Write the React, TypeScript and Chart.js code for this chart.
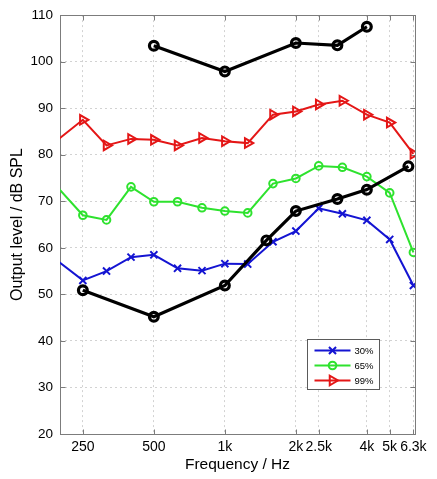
import { useEffect, useRef } from 'react';
import { Chart, registerables } from 'chart.js';

Chart.register(...registerables);

const FONT = '"Liberation Sans", Arial, Helvetica, sans-serif';

// One-third-octave band centres (Hz) for the percentile curves
const bandHz = [160, 250, 315, 400, 500, 630, 800, 1000, 1250, 1600, 2000, 2500, 3150, 4000, 5000, 6300];
const level30 = [60.6, 53.0, 55.0, 58.0, 58.5, 55.6, 55.1, 56.6, 56.5, 61.3, 63.6, 68.5, 67.3, 65.9, 61.8, 51.9];
const level65 = [77.8, 67.0, 66.0, 73.1, 69.9, 69.9, 68.6, 67.9, 67.5, 73.8, 74.9, 77.6, 77.3, 75.3, 71.8, 59.0];
const level99 = [79.7, 87.5, 82.0, 83.4, 83.2, 82.0, 83.6, 82.9, 82.5, 88.6, 89.3, 90.8, 91.6, 88.6, 86.9, 80.2];

// Audiometric frequencies for the lower and upper limit curves
const lowerHz = [250, 500, 1000, 1500, 2000, 3000, 4000, 6000];
const lowerLimit = [50.9, 45.2, 51.9, 61.6, 67.9, 70.5, 72.5, 77.5];
const upperHz = [500, 1000, 2000, 3000, 4000];
const upperLimit = [103.4, 97.9, 104.0, 103.5, 107.5];

const xTickValues = [250, 500, 1000, 2000, 2500, 4000, 5000, 6300];
const xTickLabels = ['250', '500', '1k', '2k', '2.5k', '4k', '5k', '6.3k'];

const BLUE = '#1414d2';
const GREEN = '#2ee22e';
const RED = '#e41616';
const BLACK = '#000000';
const AXIS_GREY = '#7c7c7c';
const GRID_GREY = '#d2d2d2';

const pairs = (xs: number[], ys: number[]) => xs.map((x, i) => ({ x, y: ys[i] }));

function drawMarker(
  ctx: CanvasRenderingContext2D,
  style: string,
  x: number,
  y: number,
  r: number,
  rot: number
) {
  ctx.beginPath();
  if (style === 'circle') {
    ctx.arc(x, y, r, 0, Math.PI * 2);
  } else if (style === 'triangle') {
    for (let k = 0; k < 3; k++) {
      const a = (rot * Math.PI) / 180 + (k * 2 * Math.PI) / 3;
      const px = x + Math.sin(a) * r;
      const py = y - Math.cos(a) * r;
      if (k === 0) ctx.moveTo(px, py);
      else ctx.lineTo(px, py);
    }
    ctx.closePath();
  } else {
    const d = r * Math.SQRT1_2;
    ctx.moveTo(x - d, y - d);
    ctx.lineTo(x + d, y + d);
    ctx.moveTo(x + d, y - d);
    ctx.lineTo(x - d, y + d);
  }
  ctx.stroke();
}

// Axes box with short inward tick marks on all four sides
const axesBox = {
  id: 'axesBox',
  beforeDatasetsDraw(chart: any) {
    const { ctx, chartArea, scales } = chart;
    const l = Math.round(chartArea.left) + 0.5;
    const r = Math.round(chartArea.right) + 0.5;
    const t = Math.round(chartArea.top) + 0.5;
    const b = Math.round(chartArea.bottom) + 0.5;
    ctx.save();
    ctx.strokeStyle = AXIS_GREY;
    ctx.lineWidth = 1;
    ctx.strokeRect(l, t, r - l, b - t);
    ctx.beginPath();
    const len = 5;
    xTickValues.forEach((v) => {
      const px = Math.round(scales.x.getPixelForValue(v)) + 0.5;
      ctx.moveTo(px, b);
      ctx.lineTo(px, b - len);
      ctx.moveTo(px, t);
      ctx.lineTo(px, t + len);
    });
    scales.y.ticks.forEach((tk: any) => {
      const py = Math.round(scales.y.getPixelForValue(tk.value)) + 0.5;
      ctx.moveTo(l, py);
      ctx.lineTo(l + len, py);
      ctx.moveTo(r, py);
      ctx.lineTo(r - len, py);
    });
    ctx.stroke();
    ctx.restore();
  },
};

// Boxed legend: line sample with the series marker in its middle
const lineLegend = {
  id: 'lineLegend',
  afterDraw(chart: any) {
    const { ctx, chartArea } = chart;
    const items = chart.data.datasets.filter((d: any) => d.label);
    const boxW = 72;
    const rowH = 15;
    const boxH = 11 + rowH * (items.length - 1) + 9;
    const x0 = Math.round(chartArea.right - 36 - boxW) + 0.5;
    const y0 = Math.round(chartArea.bottom - 45 - boxH) + 0.5;
    ctx.save();
    ctx.fillStyle = '#ffffff';
    ctx.fillRect(x0, y0, boxW, boxH);
    ctx.strokeStyle = '#5a5a5a';
    ctx.lineWidth = 1;
    ctx.strokeRect(x0, y0, boxW, boxH);
    items.forEach((d: any, i: number) => {
      const cy = y0 + 11 + i * rowH;
      const lx0 = x0 + 7;
      const lx1 = x0 + 43;
      ctx.strokeStyle = d.borderColor;
      ctx.lineWidth = d.borderWidth;
      ctx.beginPath();
      ctx.moveTo(lx0, cy);
      ctx.lineTo(lx1, cy);
      ctx.stroke();
      drawMarker(ctx, d.pointStyle, (lx0 + lx1) / 2, cy, d.pointRadius, d.pointRotation || 0);
      ctx.fillStyle = '#000000';
      ctx.font = `9.5px ${FONT}`;
      ctx.textBaseline = 'middle';
      ctx.textAlign = 'left';
      ctx.fillText(d.label, lx1 + 4, cy + 0.5);
    });
    ctx.restore();
  },
};

export default function App() {
  const canvasRef = useRef<HTMLCanvasElement | null>(null);

  useEffect(() => {
    const canvas = canvasRef.current;
    if (!canvas) return;

    const series = (
      label: string | undefined,
      xs: number[],
      ys: number[],
      color: string,
      width: number,
      style: string,
      radius: number,
      rotation = 0
    ) => ({
      label,
      data: pairs(xs, ys),
      borderColor: color,
      backgroundColor: color,
      borderWidth: width,
      pointStyle: style,
      pointRadius: radius,
      pointRotation: rotation,
      pointBorderColor: color,
      pointBackgroundColor: 'rgba(0,0,0,0)',
      pointBorderWidth: width,
      tension: 0,
    });

    const chart = new Chart(canvas, {
      type: 'line',
      data: {
        datasets: [
          series(undefined, upperHz, upperLimit, BLACK, 3.2, 'circle', 4.4),
          series(undefined, lowerHz, lowerLimit, BLACK, 3.2, 'circle', 4.4),
          series('30%', bandHz, level30, BLUE, 2, 'crossRot', 5),
          series('65%', bandHz, level65, GREEN, 2, 'circle', 3.8),
          series('99%', bandHz, level99, RED, 2, 'triangle', 5.5, 90),
        ] as any,
      },
      options: {
        responsive: false,
        animation: false,
        layout: { padding: { left: 0, top: 13, right: 22, bottom: 0 } },
        plugins: {
          legend: { display: false },
          tooltip: { enabled: false },
        },
        scales: {
          x: {
            type: 'logarithmic',
            min: 200,
            max: 6400,
            afterBuildTicks: (scale: any) => {
              scale.ticks = xTickValues.map((v) => ({ value: v }));
            },
            afterFit: (scale: any) => {
              scale.height = 45;
            },
            ticks: {
              autoSkip: false,
              maxRotation: 0,
              padding: 5,
              color: '#000000',
              font: { family: FONT, size: 14 },
              callback: (_v: any, i: number) => xTickLabels[i],
            },
            grid: { color: GRID_GREY, lineWidth: 1, drawTicks: false },
            border: { display: false, dash: [2, 3] },
            title: {
              display: true,
              text: 'Frequency / Hz',
              color: '#000000',
              font: { family: FONT, size: 15.5 },
              padding: { top: 0, bottom: 5 },
            },
          },
          y: {
            type: 'linear',
            min: 20,
            max: 110,
            afterFit: (scale: any) => {
              scale.width = 60;
            },
            ticks: {
              stepSize: 10,
              padding: 7,
              color: '#000000',
              font: { family: FONT, size: 13.5 },
            },
            grid: { color: GRID_GREY, lineWidth: 1, drawTicks: false },
            border: { display: false, dash: [2, 3] },
            title: {
              display: true,
              text: 'Output level / dB SPL',
              color: '#000000',
              font: { family: FONT, size: 16 },
              padding: { top: 8, bottom: 0 },
            },
          },
        },
      },
      plugins: [axesBox, lineLegend],
    } as any);

    return () => chart.destroy();
  }, []);

  return (
    <div style={{ position: 'absolute', left: 0, top: 0, width: 437, height: 479, background: '#ffffff' }}>
      <canvas ref={canvasRef} width={437} height={479} style={{ display: 'block' }} />
    </div>
  );
}
